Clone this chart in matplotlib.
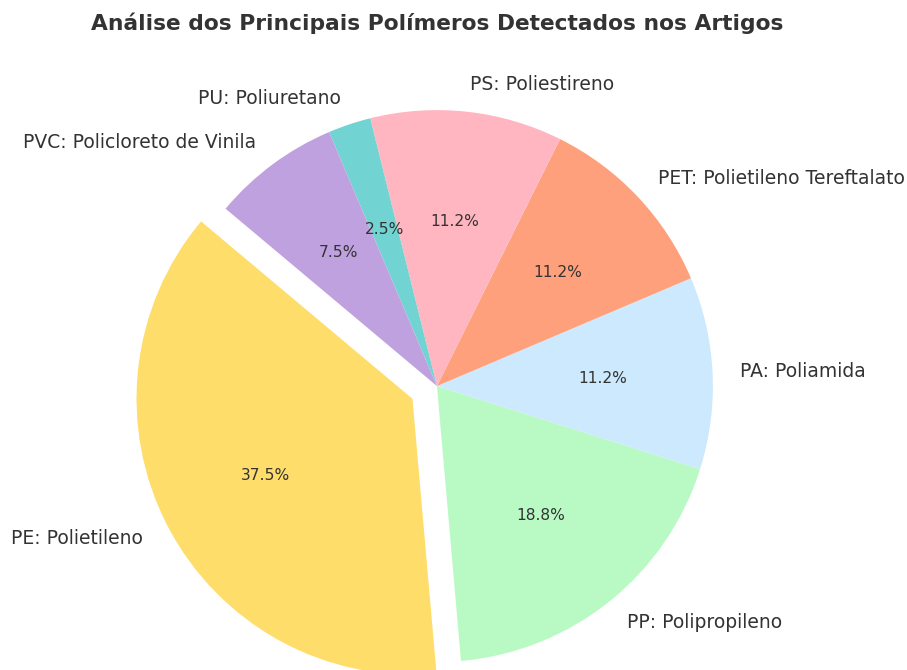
import matplotlib.pyplot as plt

plt.rcParams["font.family"] = ["DejaVu Sans"]

# polymer counts found in the articles
labels = ["PE: Polietileno", "PP: Polipropileno", "PA: Poliamida",
          "PET: Polietileno Tereftalato", "PS: Poliestireno",
          "PU: Poliuretano", "PVC: Policloreto de Vinila"]
counts = [30, 15, 9, 9, 9, 2, 6]
colors = ["#FEDD6A", "#B9FAC4", "#CCE9FD", "#FEA07B", "#FFB6C1", "#72D4D2", "#C0A1E0"]
explode = [0.1, 0, 0, 0, 0, 0, 0]

fig = plt.figure(figsize=(9.07, 6.7), dpi=100)
ax = fig.add_axes([0, 0, 1, 1])

wedges, texts, autotexts = ax.pie(counts, labels=labels, colors=colors, explode=explode,
                                  startangle=140, autopct="%1.1f%%",
                                  textprops={"fontsize": 13.5, "color": "#333333"})
for t in autotexts:
    t.set_fontsize(11.2)

# keep pie centre/radius where the original sits
ax.set_xlim(-1.583, 1.703)
ax.set_ylim(-1.029, 1.399)
ax.axis("off")

fig.text(0.482, 0.965, "Análise dos Principais Polímeros Detectados nos Artigos",
         ha="center", va="center", fontsize=15.7, fontweight="bold", color="#333333")

fig.savefig("out.png", dpi=100)
